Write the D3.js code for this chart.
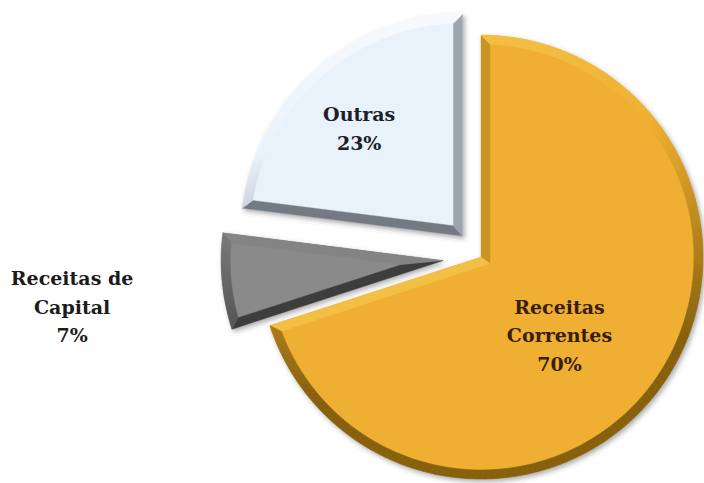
<!DOCTYPE html>
<html lang="pt">
<head>
<meta charset="utf-8">
<script src="https://cdn.jsdelivr.net/npm/d3@7"></script>
<style>
  html, body { margin: 0; padding: 0; background: #ffffff; }
  svg { display: block; }
  text { font-family: "DejaVu Serif", "Liberation Serif", serif; font-weight: bold; }
</style>
</head>
<body>
<div id="chart"></div>
<script>
// Receita por origem (%)
const categories = ["Receitas Correntes", "Receitas de Capital", "Outras"];
const shares = [70, 7, 23];
const nameLines = [["Receitas", "Correntes"], ["Receitas de", "Capital"], ["Outras"]];

// Per-slice appearance
const faceColors  = ["#EEAF30", "#8A8A8A", "#E9F1FB"];
const lightColors = ["#F4BF45", "#848484", "#F6F9FE"];
const darkColors  = ["#86610F", "#3C3C3C", "#737A84"];
const explodeBy   = [0, 38, 28];           // px pulled out along the bisector
const labelPolar  = [[135, 111], [263, 412], [316.5, 177]]; // [deg, radius] from pie centre
const labelFill   = ["#3A1D06", "#1B1B1B", "#1B2029"];

const W = 704, H = 483;
const cx = 481, cy = 257, R = 222, bevel = 9;
const lineGap = 28.5;

const svg = d3.select("#chart").append("svg")
  .attr("width", W).attr("height", H);

const defs = svg.append("defs");
const shadow = defs.append("filter").attr("id", "soft")
  .attr("x", "-10%").attr("y", "-10%").attr("width", "120%").attr("height", "120%");
shadow.append("feDropShadow")
  .attr("dx", 2).attr("dy", 2.5).attr("stdDeviation", 2.5)
  .attr("flood-color", "#4a4a4a").attr("flood-opacity", 0.45);

const pie = d3.pie().sort(null).value(d => d).startAngle(0).endAngle(2 * Math.PI);
const arcs = pie(shares);
const arcGen = d3.arc().innerRadius(0).outerRadius(R);

// light comes from above, slightly to the left
const L = (() => { const x = -0.15, y = -0.99, m = Math.hypot(x, y); return [x / m, y / m]; })();
const dir = a => [Math.sin(a), -Math.cos(a)];
function shade(i, n) {
  const s = n[0] * L[0] + n[1] * L[1];
  if (s >= 0.5) return d3.interpolateRgb(faceColors[i], lightColors[i])((s - 0.5) / 0.5);
  return d3.interpolateRgb(faceColors[i], darkColors[i])(Math.min(1, (0.5 - s) / 1.0));
}
const pt = (a, r) => { const d = dir(a); return [d[0] * r, d[1] * r]; };
const poly = ps => "M" + ps.map(p => p[0].toFixed(2) + "," + p[1].toFixed(2)).join("L") + "Z";

const slices = svg.append("g").attr("transform", `translate(${cx},${cy})`);

arcs.forEach((a, i) => {
  const mid = (a.startAngle + a.endAngle) / 2;
  const half = (a.endAngle - a.startAngle) / 2;
  const off = pt(mid, explodeBy[i]);
  const g = slices.append("g")
    .attr("transform", `translate(${off[0]},${off[1]})`)
    .attr("filter", "url(#soft)");

  // slice body
  g.append("path").attr("d", arcGen(a)).attr("fill", faceColors[i]);

  // bevel facets
  const bev = g.append("g");
  const q = pt(mid, bevel / Math.sin(half));               // inner apex
  const delta = Math.asin(bevel / (R - bevel));
  const a0 = a.startAngle, a1 = a.endAngle;
  const in0 = a0 + delta, in1 = a1 - delta;

  // straight edges
  const n0 = dir(a0 - Math.PI / 2), n1 = dir(a1 + Math.PI / 2);
  bev.append("path").attr("d", poly([[0, 0], pt(a0, R), pt(in0, R - bevel), q]))
    .attr("fill", shade(i, n0)).attr("stroke", shade(i, n0)).attr("stroke-width", 0.4);
  bev.append("path").attr("d", poly([[0, 0], pt(a1, R), pt(in1, R - bevel), q]))
    .attr("fill", shade(i, n1)).attr("stroke", shade(i, n1)).attr("stroke-width", 0.4);

  // curved rim, split into small facets lit by their own normal
  const steps = Math.max(4, Math.ceil((a1 - a0) / (Math.PI / 120)));
  for (let k = 0; k < steps; k++) {
    const t0 = k / steps, t1 = (k + 1) / steps;
    const o0 = a0 + (a1 - a0) * t0, o1 = a0 + (a1 - a0) * t1;
    const i0 = in0 + (in1 - in0) * t0, i1 = in0 + (in1 - in0) * t1;
    const c = shade(i, dir((o0 + o1) / 2));
    bev.append("path")
      .attr("d", poly([pt(o0, R), pt(o1, R), pt(i1, R - bevel), pt(i0, R - bevel)]))
      .attr("fill", c).attr("stroke", c).attr("stroke-width", 0.6);
  }
});

// data labels
const labels = svg.append("g").attr("transform", `translate(${cx},${cy})`);
arcs.forEach((a, i) => {
  const [deg, r] = labelPolar[i];
  const p = pt(deg * Math.PI / 180, r);
  const lines = nameLines[i].concat([d3.format("d")(a.data) + "%"]);
  const t = labels.append("text")
    .attr("text-anchor", "middle")
    .attr("font-size", 19)
    .attr("fill", labelFill[i]);
  lines.forEach((s, k) => {
    t.append("tspan")
      .attr("x", p[0])
      .attr("y", p[1] + (k - (lines.length - 1) / 2) * lineGap)
      .attr("dy", "0.35em")
      .text(s);
  });
});
</script>
</body>
</html>
